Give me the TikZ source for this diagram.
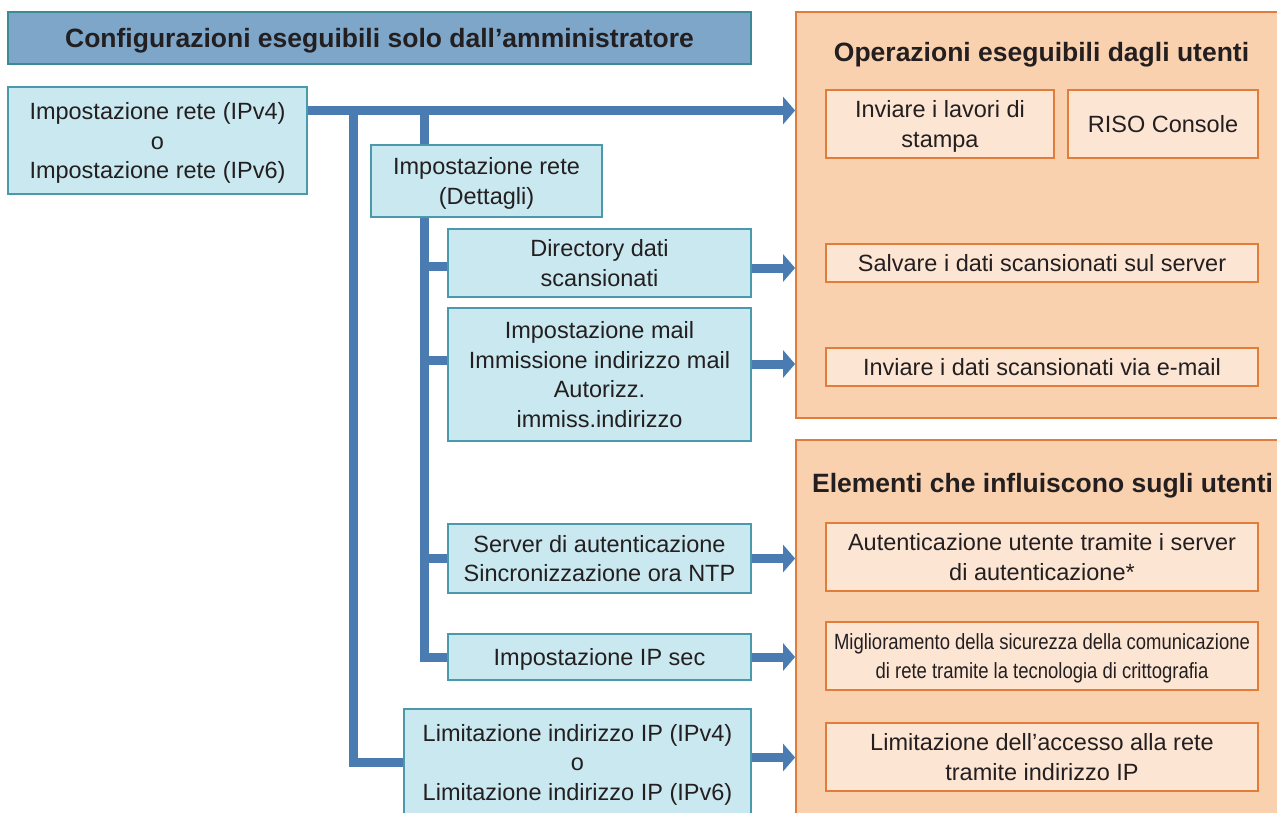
\documentclass[tikz,border=0pt]{standalone}
\usepackage{fontspec}
\setmainfont{Liberation Sans}
\newfontfamily\narrowfont[FakeStretch=0.84]{Liberation Sans}
\usetikzlibrary{arrows.meta,calc}
\definecolor{hdrfill}{RGB}{125,166,201}
\definecolor{hdrborder}{RGB}{58,138,152}
\definecolor{bluefill}{RGB}{201,232,239}
\definecolor{blueborder}{RGB}{74,154,172}
\definecolor{panelfill}{RGB}{250,209,174}
\definecolor{orangeborder}{RGB}{226,124,58}
\definecolor{innerfill}{RGB}{253,229,211}
\definecolor{lineblue}{RGB}{74,124,178}
\definecolor{txt}{RGB}{35,31,32}
\begin{document}
\begin{tikzpicture}[x=1pt,y=-1pt,
  every node/.style={inner sep=0pt, align=center, text=txt},
  bluebox/.style={draw=blueborder, fill=bluefill, line width=1.8pt, text depth=0pt, font=\fontsize{23.5}{29.5}\selectfont},
  hdrbox/.style={draw=hdrborder, fill=hdrfill, line width=1.8pt, text depth=0pt, font=\bfseries\fontsize{26.5}{32}\selectfont},
  panel/.style={draw=orangeborder, fill=panelfill, line width=1.8pt},
  obox/.style={draw=orangeborder, fill=innerfill, line width=1.8pt, text depth=0pt, font=\fontsize{23.5}{29.5}\selectfont},
  ptitle/.style={text depth=0pt, font=\bfseries\fontsize{26.5}{32}\selectfont},
  conn/.style={draw=lineblue, line width=9pt},
  arr/.style={draw=lineblue, line width=9pt, -{Triangle[width=27pt,length=12pt]}, color=lineblue}
]
\useasboundingbox (0,0) rectangle (1277,813);
\fill[white] (0,0) rectangle (1277,813);
\clip (0,0) rectangle (1277,813);

% right panels
\node[panel, minimum width=500pt, minimum height=406pt] (p1) at (1046,215) {};
\node[panel, minimum width=500pt, minimum height=400pt] (p2) at (1046,640) {};
\node[ptitle] (t1) at (1041.5,52) {Operazioni eseguibili dagli utenti};
\node[ptitle] (t2) at (1042.5,483) {Elementi che influiscono sugli utenti};

\node[obox, minimum width=228pt, minimum height=68pt] (inv) at (940,124) {Inviare i lavori di\\stampa};
\node[obox, minimum width=190pt, minimum height=68pt] (riso) at (1163,124) {RISO Console};
\node[obox, minimum width=432pt, minimum height=38pt] (salv) at (1042,263) {Salvare i dati scansionati sul server};
\node[obox, minimum width=432pt, minimum height=38pt] (email) at (1042,367) {Inviare i dati scansionati via e-mail};
\node[obox, minimum width=432pt, minimum height=68pt] (aut) at (1042,557) {Autenticazione utente tramite i server\\di autenticazione*};
\node[obox, minimum width=432pt, minimum height=68pt, font=\narrowfont\fontsize{22}{28.5}\selectfont] (mig) at (1042,656) {Miglioramento della sicurezza della comunicazione\\di rete tramite la tecnologia di crittografia};
\node[obox, minimum width=432pt, minimum height=68pt] (acc) at (1042,757) {Limitazione dell’accesso alla rete\\tramite indirizzo IP};

% header
\node[hdrbox, minimum width=743pt, minimum height=52pt] (hdr) at (379.5,38) {Configurazioni eseguibili solo dall’amministratore};

% left boxes
\node[bluebox, minimum width=299pt, minimum height=107pt] (A) at (157.5,140.5) {Impostazione rete (IPv4)\\o\\Impostazione rete (IPv6)};
\node[bluebox, minimum width=303pt, minimum height=68pt] (dir) at (599.5,263) {Directory dati\\scansionati};
\node[bluebox, minimum width=303pt, minimum height=133pt] (mail) at (599.5,374.5) {Impostazione mail\\Immissione indirizzo mail\\Autorizz.\\immiss.indirizzo};
\node[bluebox, minimum width=303pt, minimum height=69pt] (srv) at (599.5,558.5) {Server di autenticazione\\Sincronizzazione ora NTP};
\node[bluebox, minimum width=303pt, minimum height=46pt] (ipsec) at (599.5,657) {Impostazione IP sec};
\node[bluebox, minimum width=347pt, minimum height=106pt] (lim) at (577.5,762) {Limitazione indirizzo IP (IPv4)\\o\\Limitazione indirizzo IP (IPv6)};

% connectors (behind the Dettagli box)
\coordinate (j0) at (353,110.5);
\coordinate (j1) at (424.5,110.5);
\coordinate (mb) at ([yshift=14.5pt]mail.west);
\draw[conn] (j0) |- (lim.west);
\draw[conn] (j1) |- (ipsec.west);
\draw[conn] ([yshift=-3pt]dir.west) -- ++(-24,0);
\draw[conn] (mb) -- (mb -| j1);
\draw[conn] (srv.west) -- (srv.west -| j1);

\node[bluebox, minimum width=231pt, minimum height=72pt] (det) at (486.5,181) {Impostazione rete\\(Dettagli)};

% arrows
\coordinate (ma) at ([yshift=30pt]A.east);
\draw[arr] (ma) -- (ma -| p1.west);
\coordinate (da) at ([yshift=-5pt]dir.east);
\draw[arr] (da) -- (da -| p1.west);
\coordinate (ea) at ([yshift=10.5pt]mail.east);
\draw[arr] (ea) -- (ea -| p1.west);
\draw[arr] (srv.east) -- (srv.east -| p2.west);
\draw[arr] (ipsec.east) -- (ipsec.east -| p2.west);
\coordinate (la) at ([yshift=4.5pt]lim.east);
\draw[arr] (la) -- (la -| p2.west);
\end{tikzpicture}
\end{document}
